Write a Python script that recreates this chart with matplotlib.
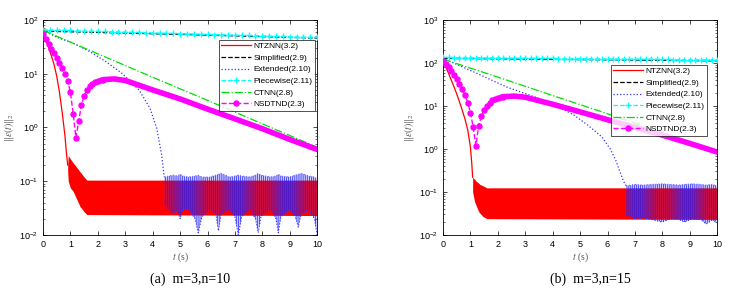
import numpy as np
import matplotlib.pyplot as plt

plt.rcParams['font.family'] = ['Liberation Sans', 'DejaVu Sans']
plt.rcParams['hatch.linewidth'] = 0.5

# ---------------- panel (a): m=3, n=10 ----------------
red_t_a = [0, 0.1, 0.2, 0.3, 0.4, 0.5, 0.6, 0.7, 0.8, 0.85, 0.9]
red_v_a = [56, 42, 31, 22, 15, 9, 4.5, 1.9, 0.7, 0.35, 0.2]
red_band_t_a = [0.9, 0.92, 1.0, 1.1, 1.2, 1.35, 1.5, 1.6, 10]
red_hi_a = [0.2, 0.3, 0.26, 0.22, 0.19, 0.15, 0.12, 0.105, 0.105]
red_lo_a = [0.15, 0.1, 0.075, 0.065, 0.05, 0.034, 0.027, 0.024, 0.023]

black_t_a = [0, 5, 10]
black_v_a = [62, 54, 46]

blue_t_a = [0, 0.5, 1.1, 1.7, 2.3, 2.9, 3.5, 3.9, 4.15, 4.33, 4.42]
blue_v_a = [64, 48, 37, 26, 16.7, 10, 5, 2.3, 0.96, 0.3, 0.12]
blue_band_t_a = [4.42, 4.6, 4.75, 4.9, 5.0, 5.1, 5.3, 5.55, 5.66, 5.8, 6.1, 6.3, 6.4,
                 6.5, 6.8, 7.0, 7.12, 7.25, 7.55, 7.75, 7.85, 7.95, 8.3, 8.5, 8.58,
                 8.68, 9.0, 9.2, 9.31, 9.42, 9.7, 9.9, 10.0]
blue_hi_a = [0.12, 0.125, 0.13, 0.125, 0.135, 0.125, 0.12, 0.125, 0.13, 0.12, 0.12, 0.13, 0.135,
             0.14, 0.12, 0.125, 0.13, 0.125, 0.12, 0.13, 0.14, 0.13, 0.12, 0.125, 0.135,
             0.125, 0.12, 0.13, 0.135, 0.14, 0.125, 0.12, 0.11]
blue_lo_a = [0.04, 0.03, 0.025, 0.03, 0.02, 0.03, 0.03, 0.02, 0.011, 0.022, 0.03, 0.025, 0.012,
             0.025, 0.03, 0.022, 0.01, 0.022, 0.03, 0.02, 0.011, 0.022, 0.03, 0.02, 0.011,
             0.022, 0.03, 0.022, 0.014, 0.025, 0.03, 0.02, 0.01]

cyan_t_a = np.arange(0, 10.01, 0.25)
cyan_v_a = [66, 65.4, 64.9, 64.3, 63.8, 63.3, 62.7, 62.2, 61.7, 61.2,
            60.7, 60.2, 59.7, 59.2, 58.7, 58.2, 57.7, 57.2, 56.8, 56.3,
            55.9, 55.4, 55.0, 54.5, 54.1, 53.6, 53.2, 52.8, 52.3, 51.9,
            51.5, 51.1, 50.6, 50.2, 49.8, 49.4, 49.0, 48.6, 48.2, 47.8, 47.4]

green_t_a = [0, 2, 4, 6, 8, 10]
green_v_a = [64, 23.5, 8.6, 3.2, 1.17, 0.43]

mag_t_a = [0, 0.1, 0.2, 0.3, 0.4, 0.5, 0.6, 0.7, 0.8, 0.9, 1.0, 1.1, 1.2, 1.3, 1.4,
           1.5, 1.6, 1.7, 1.8, 1.9, 2.0, 2.1, 2.2, 2.6, 3.0, 4.0, 5.0, 6.0, 7.0, 8.0, 9.0, 10.0]
mag_v_a = [56, 45, 36, 29, 24, 20, 16, 13, 10, 7.2, 4.5, 1.8, 0.65, 1.3, 2.6,
           3.8, 5.0, 5.8, 6.4, 6.9, 7.3, 7.6, 7.8, 8.0, 7.5, 5.0, 3.4, 2.2, 1.45, 0.95, 0.6, 0.39]

# ---------------- panel (b): m=3, n=15 ----------------
red_t_b = [0, 0.1, 0.2, 0.3, 0.4, 0.5, 0.6, 0.7, 0.8, 0.9, 1.0, 1.05, 1.08]
red_v_b = [112, 80, 58, 40, 28, 19, 12.5, 8, 5, 2.8, 1.1, 0.45, 0.22]
red_band_t_b = [1.08, 1.15, 1.2, 1.3, 1.35, 1.45, 1.5, 1.6, 10]
red_hi_b = [0.22, 0.2, 0.18, 0.16, 0.15, 0.14, 0.135, 0.125, 0.125]
red_lo_b = [0.1, 0.06, 0.05, 0.035, 0.032, 0.027, 0.026, 0.024, 0.023]

black_t_b = [0, 5, 10]
black_v_b = [128, 120, 112]

blue_t_b = [0, 1.1, 2.3, 3.5, 4.3, 4.8, 5.3, 5.8, 6.1, 6.3, 6.45, 6.58, 6.68]
blue_v_b = [128, 63, 28, 15, 9, 6, 3.5, 1.9, 1.0, 0.55, 0.3, 0.18, 0.14]
blue_band_t_b = [6.68, 7.0, 7.3, 7.6, 8.0, 8.3, 8.6, 8.8, 9.1, 9.4, 9.6, 9.8, 10.0]
blue_hi_b = [0.14, 0.15, 0.145, 0.15, 0.155, 0.15, 0.145, 0.15, 0.155, 0.15, 0.145, 0.15, 0.14]
blue_lo_b = [0.03, 0.024, 0.025, 0.023, 0.02, 0.024, 0.023, 0.02, 0.024, 0.023, 0.018, 0.022, 0.02]

cyan_t_b = np.arange(0, 10.01, 0.2)
cyan_v_b = [135, 135, 134, 134, 134, 133, 133, 132, 132, 132, 131,
            131, 130, 130, 130, 129, 129, 129, 128, 128, 128,
            127, 127, 127, 126, 126, 126, 125, 125, 125, 124,
            124, 124, 123, 123, 123, 122, 122, 122, 121, 121,
            121, 120, 120, 120, 119, 119, 119, 118, 118, 118]

green_t_b = [0, 2, 4, 6, 8, 10]
green_v_b = [123, 47, 17.5, 6.6, 2.4, 0.87]

mag_t_b = [0, 0.1, 0.2, 0.3, 0.4, 0.5, 0.6, 0.7, 0.8, 0.9, 1.0, 1.1, 1.2, 1.3, 1.4,
           1.5, 1.6, 1.7, 1.8, 1.9, 2.0, 2.1, 2.2, 2.6, 3.0, 4.0, 5.0, 6.0, 7.0, 8.0, 9.0, 10.0]
mag_v_b = [112, 95, 80, 65, 52, 42, 33, 25, 18, 12, 7, 3.2, 1.2, 3.5, 5.8,
           8, 10, 12, 13.5, 14.5, 15.3, 16, 16.5, 17, 16, 11, 7.3, 4.8, 3.2, 2.1, 1.35, 0.85]

labels = ['NTZNN(3.2)', 'Simplified(2.9)', 'Extended(2.10)', 'Piecewise(2.11)', 'CTNN(2.8)', 'NSDTND(2.3)']


def draw(ax, d, ylim, leg_anchor):
    n_mark = 23  # marker points before the dense tail
    ax.fill_between(d['red_band_t'], d['red_lo'], d['red_hi'], color='red', lw=0, zorder=2)
    l1, = ax.plot(d['red_t'], d['red_v'], '-', color='red', lw=0.9, zorder=2)
    ax.plot([d['red_t'][-1], d['red_band_t'][0]], [d['red_v'][-1], d['red_hi'][0]], '-', color='red', lw=0.9)
    l2, = ax.plot(d['black_t'], d['black_v'], '--', color='black', lw=0.9, zorder=3)
    l3, = ax.plot(d['blue_t'], d['blue_v'], ':', color='#3030ff', lw=0.9, zorder=3)
    ax.fill_between(d['blue_band_t'], d['blue_lo'], d['blue_hi'], facecolor=(0.2, 0.2, 1.0, 0.25),
                    edgecolor='#2020ff', hatch='||||||||', lw=0, zorder=3)
    ax.plot(d['blue_band_t'], d['blue_lo'], ':', color='#3030ff', lw=0.8, zorder=3)
    ax.plot(d['blue_band_t'], d['blue_hi'], ':', color='#7070ff', lw=0.8, zorder=3)
    l4, = ax.plot(d['cyan_t'], d['cyan_v'], '--', color='cyan', lw=0.9, marker='+',
                  ms=5, mew=1.0, zorder=4)
    l5, = ax.plot(d['green_t'], d['green_v'], '-.', color='#00e000', lw=0.9, zorder=4)
    l6, = ax.plot(d['mag_t'][:n_mark], d['mag_v'][:n_mark], '--', color='magenta', lw=1.0,
                  marker='o', ms=3.6, zorder=5)
    ax.plot(d['mag_t'][n_mark - 1:], d['mag_v'][n_mark - 1:], '-', color='magenta', lw=4.0,
            solid_capstyle='round', zorder=5)

    ax.set_yscale('log')
    ax.set_xlim(0, 10)
    ax.set_ylim(*ylim)
    ax.set_xticks(range(0, 11))
    ax.tick_params(which='both', direction='in', top=True, right=True, labelsize=6.5)
    ax.tick_params(which='major', length=3, width=0.5)
    ax.tick_params(which='minor', length=1.6, width=0.4)
    for s in ax.spines.values():
        s.set_linewidth(0.6)
    ax.set_xlabel('$t$ (s)', fontsize=7, color='#555555', labelpad=1, math_fontfamily='stix',
                  family='Liberation Serif')
    ax.set_ylabel(r'$\|\varepsilon(t)\|_2$', fontsize=7, color='#555555', labelpad=2,
                  math_fontfamily='stix')
    leg = ax.legend([l1, l2, l3, l4, l5, l6], labels, loc='upper right', bbox_to_anchor=leg_anchor,
                    fontsize=6, frameon=True, fancybox=False, edgecolor='black', handlelength=3.6,
                    borderpad=0.3, labelspacing=0.45, handletextpad=0.3, borderaxespad=0)
    leg.get_frame().set_linewidth(0.6)
    leg.set_zorder(10)


data_a = dict(red_t=red_t_a, red_v=red_v_a, red_band_t=red_band_t_a, red_hi=red_hi_a, red_lo=red_lo_a,
              black_t=black_t_a, black_v=black_v_a, blue_t=blue_t_a, blue_v=blue_v_a,
              blue_band_t=blue_band_t_a, blue_hi=blue_hi_a, blue_lo=blue_lo_a,
              cyan_t=cyan_t_a, cyan_v=cyan_v_a, green_t=green_t_a, green_v=green_v_a,
              mag_t=mag_t_a, mag_v=mag_v_a)
data_b = dict(red_t=red_t_b, red_v=red_v_b, red_band_t=red_band_t_b, red_hi=red_hi_b, red_lo=red_lo_b,
              black_t=black_t_b, black_v=black_v_b, blue_t=blue_t_b, blue_v=blue_v_b,
              blue_band_t=blue_band_t_b, blue_hi=blue_hi_b, blue_lo=blue_lo_b,
              cyan_t=cyan_t_b, cyan_v=cyan_v_b, green_t=green_t_b, green_v=green_v_b,
              mag_t=mag_t_b, mag_v=mag_v_b)

fig = plt.figure(figsize=(7.33, 2.95), dpi=100)
ax1 = fig.add_axes([0.0587, 0.2034, 0.374, 0.7288])
ax2 = fig.add_axes([0.6044, 0.2034, 0.374, 0.7288])
draw(ax1, data_a, (1e-2, 1e2), (0.993, 0.907))
draw(ax2, data_b, (1e-2, 1e3), (0.963, 0.791))

fig.text(0.259, 0.04, '(a)  m=3,n=10', ha='center', fontsize=10, family='Liberation Serif')
fig.text(0.805, 0.04, '(b)  m=3,n=15', ha='center', fontsize=10, family='Liberation Serif')

fig.savefig('out.png', dpi=100)
